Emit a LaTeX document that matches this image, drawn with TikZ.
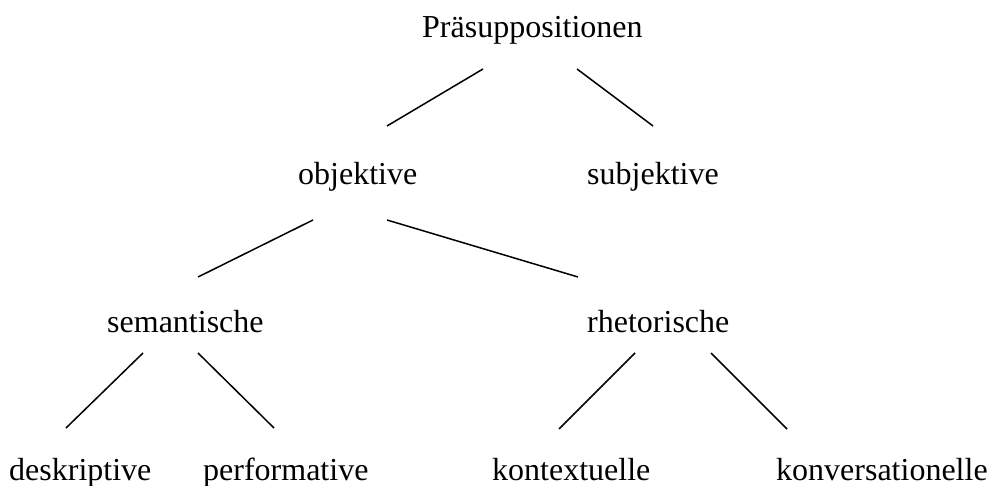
\documentclass[tikz,border=0pt]{standalone}
\usepackage{fontspec}
\setmainfont{Liberation Serif}
\begin{document}
\begin{tikzpicture}[x=1bp,y=-1bp,
  lbl/.style={anchor=base west,inner sep=0pt,font=\fontsize{32bp}{38bp}\selectfont},
  edge/.style={line width=1.5bp,black}]
\useasboundingbox (0,0) rectangle (993,486);
\node[lbl] (P) at (422,38) {Präsuppositionen};
\node[lbl] (obj) at (298,185) {objektive};
\node[lbl] (subj) at (587,185) {subjektive};
\node[lbl] (sem) at (107,333) {semantische};
\node[lbl] (rhet) at (587,333) {rhetorische};
\node[lbl] (desk) at (9,480) {deskriptive};
\node[lbl] (perf) at (203,480) {performative};
\node[lbl] (kont) at (492,480) {kontextuelle};
\node[lbl] (konv) at (776,480) {konversationelle};
% connector end points
\coordinate (P-l) at (483,69);   \coordinate (obj-t) at (387,126);
\coordinate (P-r) at (577,69);   \coordinate (subj-t) at (653,126);
\coordinate (obj-l) at (313,220); \coordinate (sem-t) at (198,277);
\coordinate (obj-r) at (387,220); \coordinate (rhet-t) at (578,277);
\coordinate (sem-l) at (143,353); \coordinate (desk-t) at (66,428);
\coordinate (sem-r) at (198,353); \coordinate (perf-t) at (274,428);
\coordinate (rhet-l) at (635,353); \coordinate (kont-t) at (559,429);
\coordinate (rhet-r) at (711,353); \coordinate (konv-t) at (787,429);
\draw[edge] (P-l) -- (obj-t);
\draw[edge] (P-r) -- (subj-t);
\draw[edge] (obj-l) -- (sem-t);
\draw[edge] (obj-r) -- (rhet-t);
\draw[edge] (sem-l) -- (desk-t);
\draw[edge] (sem-r) -- (perf-t);
\draw[edge] (rhet-l) -- (kont-t);
\draw[edge] (rhet-r) -- (konv-t);
\end{tikzpicture}
\end{document}
